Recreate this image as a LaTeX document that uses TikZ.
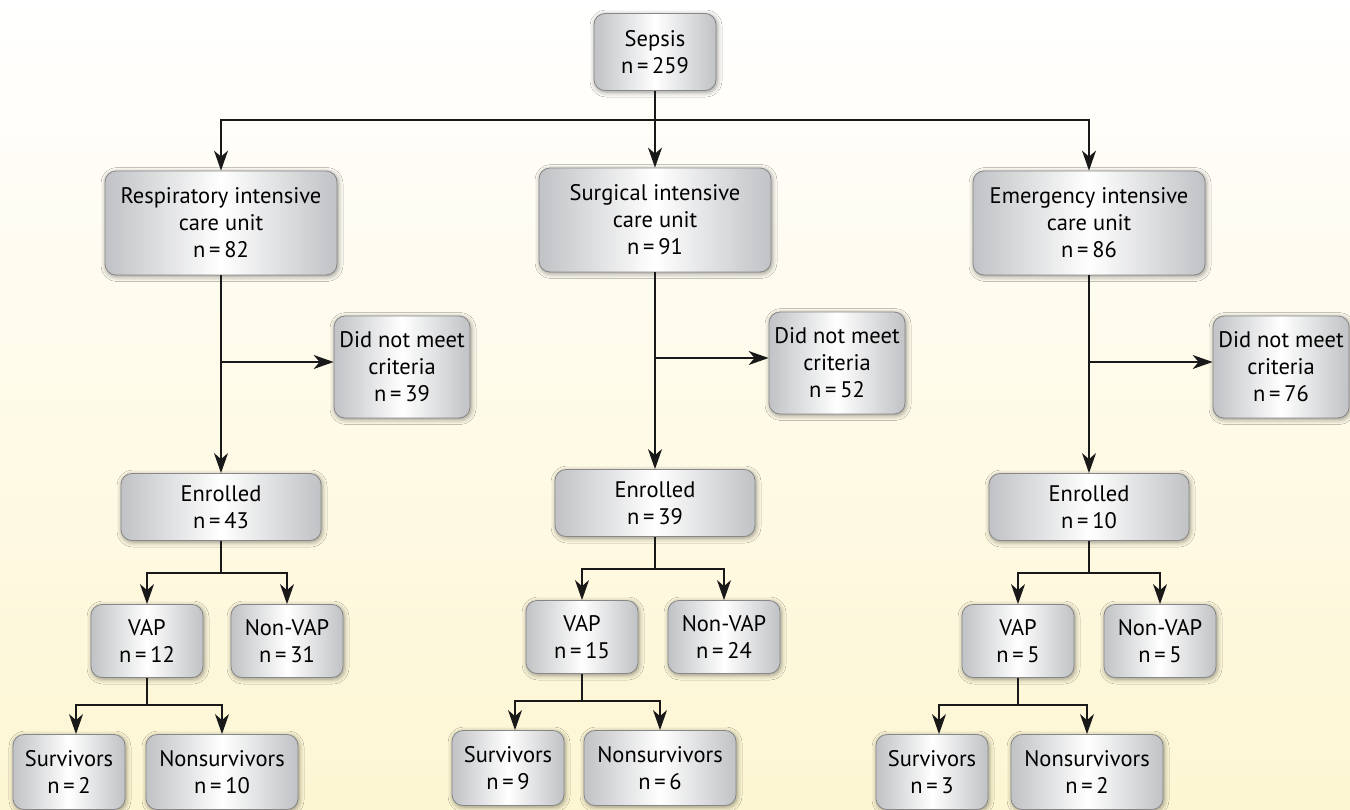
\documentclass[tikz,border=0pt]{standalone}
\usepackage{fontspec}
\setmainfont{PT Sans}
\usetikzlibrary{shadows.blur,arrows.meta}
\definecolor{boxgray}{RGB}{192,194,197}
\definecolor{boxline}{RGB}{135,135,135}
\definecolor{bgyellow}{RGB}{253,246,210}
\tikzset{
  box/.style={draw=boxline, line width=0.8pt, rounded corners=11pt,
    left color=boxgray, right color=boxgray, middle color=white,
    align=center, font=\fontsize{22.5}{27}\selectfont, inner sep=0pt,
    blur shadow={shadow xshift=1pt, shadow yshift=-1.5pt, shadow blur radius=5pt, shadow opacity=45}},
  icubox/.style={box, minimum width=232pt, minimum height=104pt},
  dnbox/.style={box, minimum width=136pt, minimum height=102pt},
  enbox/.style={box, minimum width=200pt, minimum height=67pt},
  vbox/.style={box, minimum width=112pt, minimum height=73pt},
  sbox/.style={box, minimum width=112pt, minimum height=75pt},
  nsbox/.style={box, minimum width=152pt, minimum height=75pt},
  conn/.style={line width=1.3pt, black!90},
  stub/.style={line width=2.8pt, black!90},
  arr/.style={conn, -{Stealth[length=20pt,width=14pt,inset=6pt]}}
}
\begin{document}
\begin{tikzpicture}[x=1pt,y=-1pt]
\useasboundingbox (0,0) rectangle (1350,809);
\clip (0,0) rectangle (1350,809);
\fill[top color=white, bottom color=bgyellow] (0,0) rectangle (1350,809);

% top
\node[box, minimum width=122pt, minimum height=77pt] (sep) at (655,52) {Sepsis\\n\,=\,259};
\node[icubox] (icu1) at (221,223) {Respiratory intensive\\care unit\\n\,=\,82};
\node[icubox] (icu2) at (655,220) {Surgical intensive\\care unit\\n\,=\,91};
\node[icubox] (icu3) at (1089,223) {Emergency intensive\\care unit\\n\,=\,86};

\node[dnbox] (dn1) at (402,367) {Did not meet\\criteria\\n\,=\,39};
\node[dnbox] (dn2) at (837,363) {Did not meet\\criteria\\n\,=\,52};
\node[dnbox] (dn3) at (1281,367) {Did not meet\\criteria\\n\,=\,76};

\node[enbox] (en1) at (221,507) {Enrolled\\n\,=\,43};
\node[enbox] (en2) at (655,503) {Enrolled\\n\,=\,39};
\node[enbox] (en3) at (1089,507) {Enrolled\\n\,=\,10};

\node[vbox] (vap1) at (147,641) {VAP\\n\,=\,12};
\node[vbox] (non1) at (287,641) {Non-VAP\\n\,=\,31};
\node[vbox] (vap2) at (582,637) {VAP\\n\,=\,15};
\node[vbox] (non2) at (724,637) {Non-VAP\\n\,=\,24};
\node[vbox] (vap3) at (1018,641) {VAP\\n\,=\,5};
\node[vbox] (non3) at (1160,641) {Non-VAP\\n\,=\,5};

\node[sbox] (sur1) at (69,772) {Survivors\\n\,=\,2};
\node[nsbox] (ns1) at (222,772) {Nonsurvivors\\n\,=\,10};
\node[sbox] (sur2) at (508,768) {Survivors\\n\,=\,9};
\node[nsbox] (ns2) at (660,768) {Nonsurvivors\\n\,=\,6};
\node[sbox] (sur3) at (932,772) {Survivors\\n\,=\,3};
\node[nsbox] (ns3) at (1087,772) {Nonsurvivors\\n\,=\,2};

% sepsis split
\coordinate (j0) at (655,120);
\draw[conn] (sep.south) -- (j0);
\draw[stub] (sep.south) -- ++(0,14);
\draw[arr] (j0) -| (icu1.north);
\draw[arr] (j0) -- (icu2.north);
\draw[arr] (j0) -| (icu3.north);

% ICU -> enrolled, excluded
\foreach \i in {1,2,3}{
  \draw[arr] (icu\i.south) -- (en\i.north);
  \draw[stub] (icu\i.south) -- ++(0,14);
}
\coordinate (k1) at (221,362);
\coordinate (k2) at (655,358);
\coordinate (k3) at (1089,362);
\draw[arr] (k1) -- (k1 -| dn1.west);
\draw[arr] (k2) -- (k2 -| dn2.west);
\draw[arr] (k3) -- (k3 -| dn3.west);

% enrolled -> VAP / non-VAP
\coordinate (e1) at (221,573);
\coordinate (e2) at (655,569);
\coordinate (e3) at (1089,573);
\foreach \i in {1,2,3}{
  \draw[conn] (en\i.south) -- (e\i);
  \draw[stub] (en\i.south) -- ++(0,10);
  \draw[arr] (e\i) -| (vap\i.north);
  \draw[arr] (e\i) -| (non\i.north);
}

% VAP -> survivors / nonsurvivors
\coordinate (v1) at (147,705);
\coordinate (v2) at (582,701);
\coordinate (v3) at (1018,705);
\foreach \i in {1,2,3}{
  \draw[conn] (vap\i.south) -- (v\i);
  \draw[arr] (v\i) -| ([xshift=7pt]sur\i.north);
  \draw[arr] (v\i) -| (ns\i.north);
}
\end{tikzpicture}
\end{document}
